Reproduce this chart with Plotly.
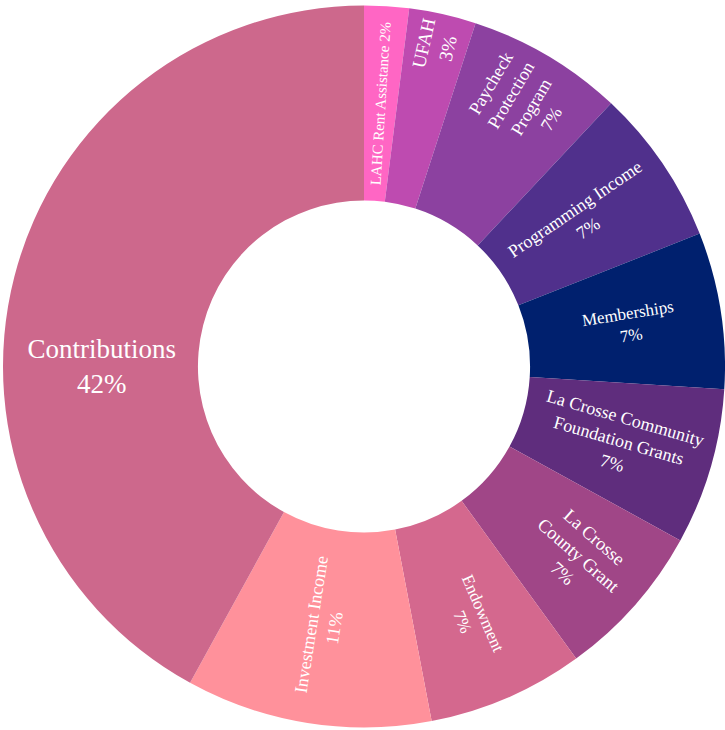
import plotly.graph_objects as go

labels = ["LAHC Rent Assistance", "UFAH", "Paycheck<br>Protection<br>Program",
          "Programming Income", "Memberships", "La Crosse Community<br>Foundation Grants",
          "La Crosse<br>County Grant", "Endowment", "Investment Income", "Contributions"]
values = [2, 3, 7, 7, 7, 7, 7, 7, 11, 42]
colors = ["#ff66c4", "#be4bb0", "#8c41a0", "#50308c", "#00206e", "#5f2d7d",
          "#a04687", "#d4688e", "#ff919b", "#cd688c"]
font_sizes = [15, 19, 18, 18, 17, 18, 18.5, 17, 18, 27]
templates = ["%{label} %{percent:.0%}"] + ["%{label}<br>%{percent:.0%}"] * (len(labels) - 1)

fig = go.Figure(go.Pie(
    labels=labels, values=values, sort=False, direction="clockwise", rotation=0,
    hole=0.46, marker=dict(colors=colors),
    texttemplate=templates, textposition="inside",
    textfont=dict(family="Liberation Serif, Times New Roman, serif", size=font_sizes, color="white"),
    insidetextorientation="radial", showlegend=False, hoverinfo="label+percent",
))
fig.update_layout(width=725, height=730, margin=dict(l=3, r=0, t=3, b=0),
                  paper_bgcolor="white", plot_bgcolor="white")
fig.write_html("out.html", post_script="document.body.style.margin='0';",
               config={"displayModeBar": False})
